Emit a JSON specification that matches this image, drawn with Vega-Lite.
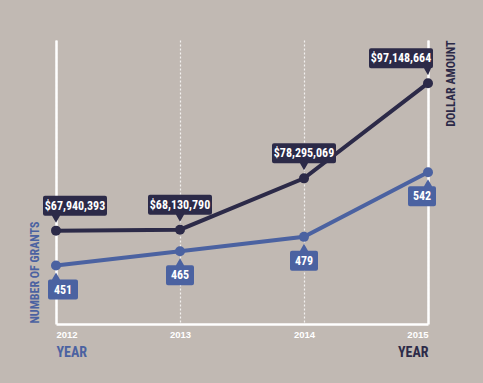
{
  "$schema": "https://vega.github.io/schema/vega-lite/v6.json",
  "autosize": "none",
  "width": 372,
  "height": 284,
  "padding": {"left": 56, "top": 40, "right": 55, "bottom": 59},
  "background": "#c1b9b3",
  "config": {
    "view": {"stroke": null},
    "font": "Liberation Sans Narrow, Roboto Condensed, DejaVu Sans Condensed, sans-serif"
  },
  "data": {
    "values": [
      {"year": 2012, "dollars": 67940393, "grants": 451},
      {"year": 2013, "dollars": 68130790, "grants": 465},
      {"year": 2014, "dollars": 78295069, "grants": 479},
      {"year": 2015, "dollars": 97148664, "grants": 542}
    ]
  },
  "resolve": {"scale": {"y": "independent"}, "axis": {"x": "independent"}},
  "layer": [
    {
      "encoding": {
        "x": {
          "field": "year", "type": "quantitative",
          "scale": {"domain": [2012, 2015]},
          "axis": {
            "orient": "bottom", "values": [2012, 2013, 2014, 2015], "format": "d",
            "ticks": false, "labelFlush": true, "labelPadding": 5,
            "labelColor": "#ffffff", "labelFontSize": 9.5, "labelFontWeight": "bold",
            "labelFont": "Liberation Sans, Arial, sans-serif",
            "domainColor": "#ffffff", "domainWidth": 2.5,
            "grid": true, "gridColor": "#ffffff", "gridDash": [2, 2], "gridWidth": 1.2, "gridOpacity": 0.8,
            "title": "YEAR", "titleColor": "#4b62a1", "titleFontSize": 14, "titleFontWeight": "bold",
            "titleX": 0, "titleY": 32, "titleAlign": "left", "titleBaseline": "alphabetic"
          }
        },
        "y": {
          "field": "grants", "type": "quantitative",
          "scale": {"domain": [394, 671], "nice": false, "zero": false},
          "axis": {
            "orient": "left", "labels": false, "ticks": false, "grid": false,
            "domainColor": "#ffffff", "domainWidth": 2.5,
            "title": "NUMBER OF GRANTS", "titleColor": "#4b62a1", "titleFontSize": 12, "titleFontWeight": "bold",
            "titleAngle": -90, "titleX": -22, "titleY": 283, "titleAlign": "left", "titleBaseline": "middle"
          }
        }
      },
      "layer": [
        {"mark": {"type": "line", "color": "#4b62a1", "strokeWidth": 4}},
        {"mark": {"type": "point", "filled": true, "opacity": 1, "color": "#4b62a1", "size": 100}},
        {
          "mark": {"type": "point", "filled": true, "opacity": 1, "color": "#4b62a1", "strokeWidth": 0},
          "encoding": {
            "size": {"value": 4},
            "shape": {
              "condition": [
                {"test": "datum.year == 2012", "value": "M-6,14L-4,14L0,7L4,14L20,14Q22,14 22,16L22,32Q22,34 20,34L-6,34Q-8,34 -8,32L-8,16Q-8,14 -6,14Z"},
                {"test": "datum.year == 2015", "value": "M-18,14L-4,14L0,7L4,14L6,14Q8,14 8,16L8,32Q8,34 6,34L-18,34Q-20,34 -20,32L-20,16Q-20,14 -18,14Z"}
              ],
              "value": "M-12,14L-4,14L0,7L4,14L12,14Q14,14 14,16L14,32Q14,34 12,34L-12,34Q-14,34 -14,32L-14,16Q-14,14 -12,14Z"
            }
          }
        },
        {
          "mark": {
            "type": "text", "color": "#ffffff", "fontSize": 12, "fontWeight": "bold",
            "baseline": "middle", "dy": 24,
            "dx": {"expr": "datum.year == 2012 ? 7 : datum.year == 2015 ? -6 : 0"}
          },
          "encoding": {"text": {"field": "grants", "type": "quantitative", "format": "d"}}
        }
      ]
    },
    {
      "encoding": {
        "x": {
          "field": "year", "type": "quantitative",
          "scale": {"domain": [2012, 2015]},
          "axis": {
            "orient": "bottom", "labels": false, "ticks": false, "grid": false, "domain": false,
            "title": "YEAR", "titleColor": "#2c2a48", "titleFontSize": 14, "titleFontWeight": "bold",
            "titleX": 372, "titleY": 32, "titleAlign": "right", "titleBaseline": "alphabetic"
          }
        },
        "y": {
          "field": "dollars", "type": "quantitative",
          "scale": {"domain": [49450000, 105700000], "nice": false, "zero": false},
          "axis": {
            "orient": "right", "labels": false, "ticks": false, "grid": false,
            "domainColor": "#ffffff", "domainWidth": 2.5,
            "title": "DOLLAR AMOUNT", "titleColor": "#2c2a48", "titleFontSize": 12, "titleFontWeight": "bold",
            "titleAngle": -90, "titleX": 22, "titleY": 0, "titleAlign": "right", "titleBaseline": "middle"
          }
        }
      },
      "layer": [
        {"mark": {"type": "line", "color": "#2c2a48", "strokeWidth": 4}},
        {"mark": {"type": "point", "filled": true, "opacity": 1, "color": "#2c2a48", "size": 100}},
        {
          "mark": {"type": "point", "filled": true, "opacity": 1, "color": "#2c2a48", "strokeWidth": 0},
          "encoding": {
            "size": {"value": 4},
            "shape": {
              "condition": [
                {"test": "datum.year == 2012", "value": "M-11,-35L49,-35Q51,-35 51,-33L51,-17Q51,-15 49,-15L4,-15L0,-8L-4,-15L-11,-15Q-13,-15 -13,-17L-13,-33Q-13,-35 -11,-35Z"},
                {"test": "datum.year == 2015", "value": "M-57,-35L3,-35Q5,-35 5,-33L5,-17Q5,-15 3,-15L0,-8L-4,-15L-57,-15Q-59,-15 -59,-17L-59,-33Q-59,-35 -57,-35Z"}
              ],
              "value": "M-30,-35L30,-35Q32,-35 32,-33L32,-17Q32,-15 30,-15L4,-15L0,-8L-4,-15L-30,-15Q-32,-15 -32,-17L-32,-33Q-32,-35 -30,-35Z"
            }
          }
        },
        {
          "mark": {
            "type": "text", "color": "#ffffff", "fontSize": 12, "fontWeight": "bold",
            "baseline": "middle", "dy": -25,
            "dx": {"expr": "datum.year == 2012 ? 19 : datum.year == 2015 ? -27 : 0"}
          },
          "encoding": {"text": {"field": "dollars", "type": "quantitative", "format": "$,d"}}
        }
      ]
    }
  ]
}
